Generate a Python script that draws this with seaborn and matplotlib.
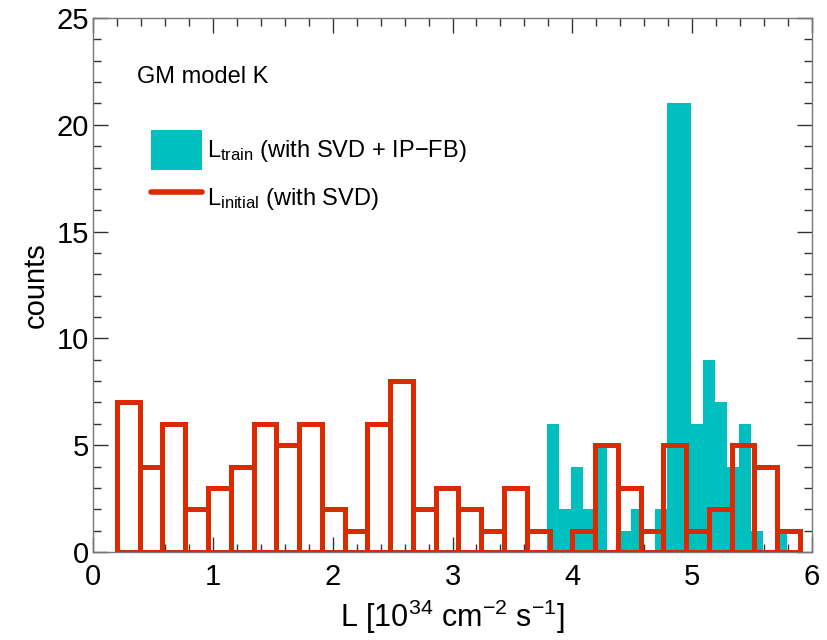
import numpy as np
import matplotlib
matplotlib.use("Agg")
import matplotlib.pyplot as plt
import seaborn as sns
from matplotlib.patches import Patch
from matplotlib.lines import Line2D
from matplotlib.ticker import MultipleLocator

sns.set_style("ticks")
plt.rcParams["font.family"] = ["Liberation Sans", "DejaVu Sans"]
plt.rcParams["mathtext.fontset"] = "custom"
plt.rcParams["mathtext.rm"] = "Liberation Sans"
plt.rcParams["mathtext.it"] = "Liberation Sans:italic"
plt.rcParams["text.color"] = "black"
plt.rcParams["axes.labelcolor"] = "black"
plt.rcParams["xtick.labelcolor"] = "black"
plt.rcParams["ytick.labelcolor"] = "black"

# L_initial (with SVD): 30 bins from 0.2 to 5.9
red_range = (0.2, 5.9)
red_counts = [7, 4, 6, 2, 3, 4, 6, 5, 6, 2,
              1, 6, 8, 2, 3, 2, 1, 3, 1, 0,
              1, 5, 3, 1, 5, 1, 2, 5, 4, 1]

# L_train (with SVD + IP-FB): 20 bins from 3.79 to 5.79
teal_range = (3.79, 5.79)
teal_counts = [6, 2, 4, 2, 5, 0, 1, 2, 0, 2,
               21, 21, 6, 9, 7, 4, 6, 1, 0, 1]

teal = "#00BFBF"
red = "#DC2A00"

n_red = len(red_counts)
red_edges = np.linspace(red_range[0], red_range[1], n_red + 1)
red_centers = (red_edges[:-1] + red_edges[1:]) / 2

n_teal = len(teal_counts)
teal_edges = np.linspace(teal_range[0], teal_range[1], n_teal + 1)
teal_centers = (teal_edges[:-1] + teal_edges[1:]) / 2

fig = plt.figure(figsize=(8.28, 6.4), dpi=100)
ax = fig.add_axes([0.1123, 0.1375, 0.8684, 0.8344])

sns.histplot(
    x=teal_centers,
    weights=teal_counts,
    bins=n_teal,
    binrange=teal_range,
    color=teal,
    alpha=1,
    linewidth=0,
    ax=ax,
    zorder=2
)

sns.histplot(
    x=red_centers,
    weights=red_counts,
    bins=n_red,
    binrange=red_range,
    element="bars",
    fill=False,
    color=red,
    linewidth=3.6,
    ax=ax,
    zorder=3
)

ax.set_xlim(0, 6)
ax.set_ylim(0, 25)

ax.xaxis.set_major_locator(MultipleLocator(1))
ax.xaxis.set_minor_locator(MultipleLocator(0.2))
ax.yaxis.set_major_locator(MultipleLocator(5))
ax.yaxis.set_minor_locator(MultipleLocator(1))

ax.tick_params(which="both", direction="in", top=True, right=True,
               color="#333333", width=1)
ax.tick_params(which="major", length=11, labelsize=21)
ax.tick_params(which="minor", length=5.5)
ax.tick_params(axis="x", which="major", pad=8)
ax.tick_params(axis="y", which="major", pad=3)

for s in ax.spines.values():
    s.set_color("#777777")
    s.set_linewidth(1)

ax.set_xlabel(r"L [10$^{34}$ cm$^{-2}$ s$^{-1}$]", fontsize=22, labelpad=5)
ax.set_ylabel("counts", fontsize=21, labelpad=5)

ax.text(0.061, 0.89, "GM model K", transform=ax.transAxes,
        fontsize=17, va="center", ha="left")

handles = [
    Patch(facecolor=teal, edgecolor="none"),
    Line2D([0], [0], color=red, linewidth=4)
]
labels = [
    r"L$_{\rm train}$ (with SVD + IP" + "\u2212" + "FB)",
    r"L$_{\rm initial}$ (with SVD)"
]
ax.legend(handles, labels, loc="upper left", bbox_to_anchor=(0.08, 0.79),
          frameon=False, fontsize=17, handlelength=2.2, handleheight=2.2,
          handletextpad=0.2, labelspacing=0.35, borderpad=0, borderaxespad=0)

fig.savefig("out.png", dpi=100)
